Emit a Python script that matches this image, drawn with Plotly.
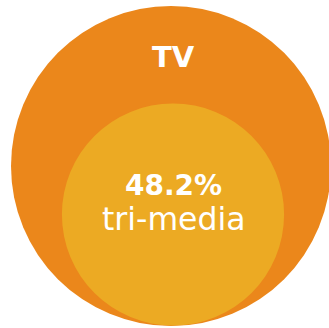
import math
import plotly.graph_objects as go

labels = ["TV", "tri-media"]
values = [100.0, 48.2]
value_text = ["", "48.2%"]
colors = ["#EB871B", "#ECAA23"]

W, H = 329, 328
R = 160.0
outer_c = (171.0, 166.0)
inner_c = (173.0, 214.5)

fig = go.Figure()
shapes = []
centers = [outer_c, inner_c]
for i, (lab, v) in enumerate(zip(labels, values)):
    r = R * math.sqrt(v / values[0])
    cx, cy = centers[i]
    shapes.append(dict(type="circle", xref="x", yref="y",
                       x0=cx - r, x1=cx + r, y0=cy - r, y1=cy + r,
                       fillcolor=colors[i], line=dict(width=0), layer="below"))

fig.add_trace(go.Scatter(x=[0, W], y=[0, H], mode="markers",
                         marker=dict(opacity=0), hoverinfo="skip", showlegend=False))

font_family = "'DejaVu Sans', sans-serif"
annotations = [
    dict(x=173, y=57, text="<b>" + labels[0] + "</b>", showarrow=False,
         font=dict(family=font_family, size=29, color="white"),
         xanchor="center", yanchor="middle"),
    dict(x=173, y=185.5, text="<b>" + value_text[1] + "</b>", showarrow=False,
         font=dict(family=font_family, size=28, color="white"),
         xanchor="center", yanchor="middle"),
    dict(x=174, y=218.5, text=labels[1], showarrow=False,
         font=dict(family=font_family, size=31.5, color="white"),
         xanchor="center", yanchor="middle"),
]
for a in annotations:
    a.update(xref="x", yref="y")

fig.update_layout(
    width=W, height=H, margin=dict(l=0, r=0, t=0, b=0),
    paper_bgcolor="white", plot_bgcolor="white",
    shapes=shapes, annotations=annotations,
    xaxis=dict(range=[0, W], visible=False, fixedrange=True),
    yaxis=dict(range=[H, 0], visible=False, fixedrange=True),
    showlegend=False,
)
fig.write_html("out.html", config={"displayModeBar": False})
